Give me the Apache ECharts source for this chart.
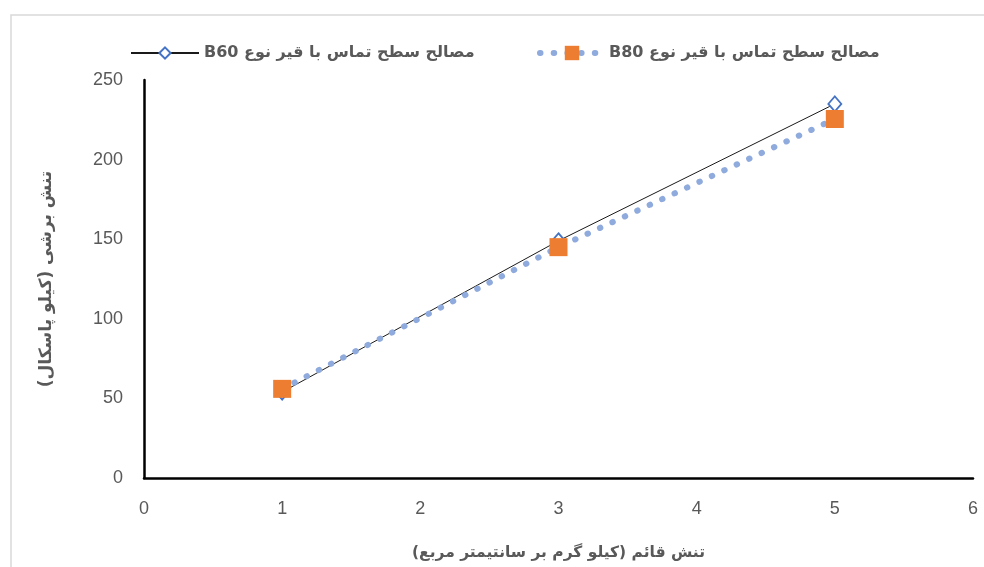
<!DOCTYPE html>
<html>
<head>
<meta charset="utf-8">
<script src="https://cdn.jsdelivr.net/npm/echarts@6/dist/echarts.min.js"></script>
<style>
html,body{margin:0;padding:0;background:#fff;}
#chart{width:984px;height:567px;}
</style>
</head>
<body>
<div id="chart"></div>
<script>
// Data
var xValues = [1, 3, 5];
var b60Values = [54, 149, 235];
var b80Values = [56, 145, 225.5];
var seriesNames = ['\u202Bمصالح سطح تماس با قير نوع B60\u202C', '\u202Bمصالح سطح تماس با قير نوع B80\u202C'];
var xTitle = '\u202Bتنش قائم (کیلو گرم بر سانتیمتر مربع)\u202C';
var yTitle = '\u202Bتنش برشی (کیلو پاسکال)\u202C';

function pairs(xs, ys) { return xs.map(function (x, i) { return [x, ys[i]]; }); }

var chart = echarts.init(document.getElementById('chart'), null, {renderer: 'canvas'});
var tickFont = {color: '#595959', fontSize: 18, fontFamily: '"Liberation Sans Narrow", "Liberation Sans", sans-serif'};
var xTitleFont = {color: '#595959', fontSize: 15.5, fontWeight: 'bold', fontFamily: '"DejaVu Sans", sans-serif'};
var yTitleFont = {color: '#595959', fontSize: 17, fontWeight: 'bold', fontFamily: '"DejaVu Sans", sans-serif'};
var legendFont = {color: '#595959', fontSize: 16, fontWeight: 'bold', fontFamily: '"DejaVu Sans", sans-serif'};
var dotLine = {color: '#8FAADC', width: 6, type: [0.5, 13.2], cap: 'round'};

chart.setOption({
  backgroundColor: '#ffffff',
  animation: false,
  graphic: [{
    type: 'rect', left: 8.5, top: 12.5, shape: {width: 1000, height: 600},
    style: {fill: 'none', stroke: '#d9d9d9', lineWidth: 1.5}, silent: true, z: -10
  }],
  grid: {left: 144, right: 11, top: 80, bottom: 89, containLabel: false},
  legend: [{
    data: [seriesNames[0]], left: 125, top: 40, itemWidth: 68, itemHeight: 14, itemGap: 7,
    textStyle: legendFont
  }, {
    data: [seriesNames[1]], left: 532, top: 40, itemWidth: 64, itemHeight: 18, itemGap: 7,
    textStyle: legendFont,
    lineStyle: {color: '#8FAADC', width: 6, type: [0.5, 13.2], cap: 'round'}
  }],
  xAxis: {
    type: 'value', min: 0, max: 6, interval: 1,
    name: xTitle, nameLocation: 'middle', nameGap: 67, nameTextStyle: xTitleFont,
    axisLine: {show: true, lineStyle: {color: '#000', width: 2.5}},
    axisTick: {show: false}, splitLine: {show: false},
    axisLabel: Object.assign({margin: 22}, tickFont)
  },
  yAxis: {
    type: 'value', min: 0, max: 250, interval: 50,
    name: yTitle, nameLocation: 'middle', nameGap: 89, nameTextStyle: yTitleFont,
    axisLine: {show: true, lineStyle: {color: '#000', width: 2.5}},
    axisTick: {show: false}, splitLine: {show: false},
    axisLabel: Object.assign({margin: 21}, tickFont)
  },
  series: [{
    name: seriesNames[0], type: 'line', data: pairs(xValues, b60Values),
    symbol: 'diamond', symbolSize: [13, 15],
    lineStyle: {color: '#1a1a1a', width: 1},
    itemStyle: {color: '#ffffff', borderColor: '#4472C4', borderWidth: 1.8},
    z: 2
  }, {
    name: seriesNames[1], type: 'line', data: pairs(xValues, b80Values),
    symbol: 'rect', symbolSize: 18,
    lineStyle: dotLine,
    itemStyle: {color: '#ED7D31'},
    z: 3
  }]
});
</script>
</body>
</html>
